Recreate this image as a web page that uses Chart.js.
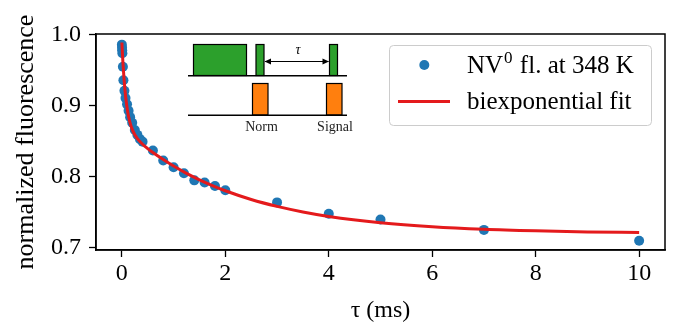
<!DOCTYPE html>
<html>
<head>
<meta charset="utf-8">
<script src="https://cdn.jsdelivr.net/npm/chart.js@4/dist/chart.umd.min.js"></script>
<style>
html,body{margin:0;padding:0;background:#fff;}
#c{display:block;}
</style>
</head>
<body>
<canvas id="c" width="685" height="326"></canvas>
<script>
// ---- data ----
const tauData = [0, 0.003, 0.006, 0.01, 0.02, 0.03, 0.05, 0.07, 0.1, 0.13, 0.16, 0.2, 0.25, 0.3, 0.35, 0.4, 0.6, 0.8, 1.0, 1.2, 1.4, 1.6, 1.8, 2.0, 3, 4, 5, 7, 10];
const fluoData = [0.986, 0.982, 0.978, 0.974, 0.955, 0.936, 0.921, 0.911, 0.902, 0.893, 0.884, 0.876, 0.866, 0.859, 0.853, 0.8495, 0.837, 0.823, 0.8135, 0.805, 0.795, 0.792, 0.787, 0.781, 0.764, 0.748, 0.740, 0.7253, 0.710];
const fitTau = [0, 0.02, 0.04, 0.06, 0.08, 0.1, 0.13, 0.16, 0.2, 0.25, 0.3, 0.4, 0.5, 0.6, 0.8, 1.0, 1.25, 1.5, 1.75, 2.0, 2.5, 3, 3.5, 4, 5, 6, 7, 8, 9, 10];
const fitVal = [0.989, 0.9613, 0.9395, 0.9222, 0.9084, 0.8974, 0.8848, 0.8756, 0.8668, 0.8591, 0.8537, 0.8458, 0.8397, 0.8342, 0.8243, 0.8152, 0.8049, 0.7958, 0.7877, 0.7804, 0.7681, 0.7584, 0.7506, 0.7443, 0.7355, 0.7298, 0.7262, 0.7240, 0.7225, 0.7216];
const xTicks = [0, 2, 4, 6, 8, 10];
const yTicks = [0.7, 0.8, 0.9, 1.0];
const seriesLabel = 'NV0 fl. at 348 K';
const fitLabel = 'biexponential fit';
const xTitle = 'τ (ms)';
const yTitle = 'normalized fluorescence';

const FONT = "'Liberation Serif', serif";
const FS = 24;

const scatterPts = tauData.map((t, i) => ({x: t, y: fluoData[i]}));
const fitPts = fitTau.map((t, i) => ({x: t, y: fitVal[i]}));

const framePlugin = {
  id: 'frame',
  afterDraw(chart) {
    const ctx = chart.ctx;
    const a = chart.chartArea;
    ctx.save();
    ctx.strokeStyle = '#000';
    ctx.lineWidth = 1.5;
    ctx.strokeRect(a.left, a.top, a.right - a.left, a.bottom - a.top);

    // ---- inset pulse diagram ----
    ctx.lineWidth = 1.2;
    ctx.strokeStyle = '#000';
    const green = '#2ca02c', orange = '#ff7f0e';
    function rect(x0, y0, x1, y1, col) {
      ctx.fillStyle = col;
      ctx.fillRect(x0, y0, x1 - x0, y1 - y0);
      ctx.strokeRect(x0, y0, x1 - x0, y1 - y0);
    }
    rect(193.5, 44.5, 246.5, 75.5, green);
    rect(256, 44.5, 264, 75.5, green);
    rect(329.5, 44.5, 337.5, 75.5, green);
    rect(252.5, 83.5, 268, 115, orange);
    rect(326.5, 83.5, 342, 115, orange);
    ctx.lineWidth = 1.6;
    ctx.beginPath();
    ctx.moveTo(188, 75.7); ctx.lineTo(347, 75.7);
    ctx.moveTo(188, 115.3); ctx.lineTo(347, 115.3);
    ctx.stroke();
    // double arrow
    ctx.lineWidth = 1;
    ctx.beginPath();
    ctx.moveTo(265, 61.5); ctx.lineTo(328.5, 61.5); ctx.stroke();
    ctx.fillStyle = '#000';
    ctx.beginPath();
    ctx.moveTo(264.5, 61.5); ctx.lineTo(271, 58.5); ctx.lineTo(271, 64.5); ctx.closePath(); ctx.fill();
    ctx.beginPath();
    ctx.moveTo(329, 61.5); ctx.lineTo(322.5, 58.5); ctx.lineTo(322.5, 64.5); ctx.closePath(); ctx.fill();
    ctx.textAlign = 'center';
    ctx.textBaseline = 'middle';
    ctx.font = "italic 14px " + FONT;
    ctx.fillText('τ', 298, 50);
    ctx.font = "14px " + FONT;
    ctx.fillStyle = '#222';
    ctx.fillText('Norm', 261.5, 127);
    ctx.fillText('Signal', 335, 127);

    // ---- legend ----
    const lx = 389.5, ly = 45.5, lw = 262, lh = 80, r = 4;
    ctx.beginPath();
    ctx.moveTo(lx + r, ly);
    ctx.arcTo(lx + lw, ly, lx + lw, ly + lh, r);
    ctx.arcTo(lx + lw, ly + lh, lx, ly + lh, r);
    ctx.arcTo(lx, ly + lh, lx, ly, r);
    ctx.arcTo(lx, ly, lx + lw, ly, r);
    ctx.closePath();
    ctx.fillStyle = 'rgba(255,255,255,0.8)';
    ctx.fill();
    ctx.strokeStyle = '#cccccc';
    ctx.lineWidth = 1;
    ctx.stroke();

    const ds0 = chart.data.datasets[1];
    const ds1 = chart.data.datasets[0];
    ctx.fillStyle = ds0.backgroundColor;
    ctx.beginPath(); ctx.arc(424.3, 65, 5, 0, Math.PI * 2); ctx.fill();
    ctx.strokeStyle = ds1.borderColor;
    ctx.lineWidth = 3;
    ctx.beginPath(); ctx.moveTo(398, 101.5); ctx.lineTo(450, 101.5); ctx.stroke();

    ctx.fillStyle = '#000';
    ctx.textAlign = 'left';
    ctx.textBaseline = 'alphabetic';
    const LFS = 25;
    ctx.font = LFS + "px " + FONT;
    let tx = 467;
    const base1 = 73;
    ctx.fillText('NV', tx, base1);
    tx += ctx.measureText('NV').width;
    ctx.font = "17px " + FONT;
    ctx.fillText('0', tx + 1, base1 - 10);
    tx += ctx.measureText('0').width + 2;
    ctx.font = LFS + "px " + FONT;
    ctx.fillText(' fl. at 348 K', tx, base1);
    ctx.fillText(ds1.label, 467, 109);
    ctx.restore();
  }
};

new Chart(document.getElementById('c'), {
  data: {
    datasets: [
      {
        type: 'line',
        label: fitLabel,
        data: fitPts,
        borderColor: '#e41a1c',
        borderWidth: 3,
        pointRadius: 0,
        fill: false,
        cubicInterpolationMode: 'monotone'
      },
      {
        type: 'scatter',
        label: seriesLabel,
        data: scatterPts,
        backgroundColor: '#1f77b4',
        borderWidth: 0,
        pointRadius: 5,
        pointHoverRadius: 5
      }
    ]
  },
  options: {
    responsive: false,
    animation: false,
    events: [],
    layout: {padding: {left: 0, right: 20, top: 34, bottom: 0}},
    plugins: {legend: {display: false}, tooltip: {enabled: false}},
    scales: {
      x: {
        type: 'linear',
        min: -0.5, max: 10.5,
        afterFit(s) { s.height = 76; },
        afterBuildTicks(s) { s.ticks = xTicks.map(v => ({value: v})); },
        grid: {display: true, drawOnChartArea: false, drawTicks: true, tickLength: 7, tickColor: '#000', tickWidth: 1.3},
        border: {display: true, color: '#000', width: 1.5},
        ticks: {color: '#000', font: {family: FONT, size: FS}, padding: 2, maxRotation: 0, callback: v => String(v)},
        title: {display: true, text: xTitle, color: '#000', font: {family: FONT, size: FS}, padding: {top: 0, bottom: 1}}
      },
      y: {
        type: 'linear',
        min: 0.697, max: 1.001,
        afterFit(s) { s.width = 96; },
        afterBuildTicks(s) { s.ticks = yTicks.map(v => ({value: v})); },
        grid: {display: true, drawOnChartArea: false, drawTicks: true, tickLength: 7, tickColor: '#000', tickWidth: 1.3},
        border: {display: true, color: '#000', width: 1.5},
        ticks: {color: '#000', font: {family: FONT, size: FS}, padding: 8, callback: v => v.toFixed(1)},
        title: {display: true, text: yTitle, color: '#000', font: {family: 'Liberation Serif', size: 26}, padding: {top: 11, bottom: 0}}
      }
    }
  },
  plugins: [framePlugin]
});
</script>
</body>
</html>
